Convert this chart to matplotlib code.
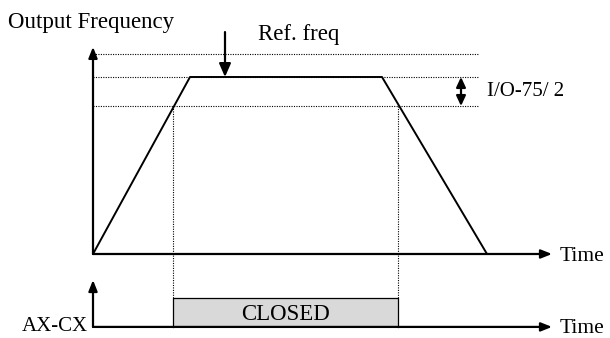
"""Timing diagram: output frequency profile and the AX-CX relay (CLOSED band)."""

import matplotlib

matplotlib.use("Agg")
import matplotlib.pyplot as plt

# frequency profile (time units, frequency as fraction of ref. plateau)
profile_time = [0.0, 0.97, 2.89, 3.94]
profile_freq = [0.0, 1.0, 1.0, 0.0]

ref_freq_level = 1.13       # upper dotted line
plateau_level = 1.0         # reached frequency
band_low_level = 0.836      # plateau minus I/O-75/2

# relay closed interval (where the ramps cross the band)
relay_on_time = 0.80
relay_off_time = 3.05

# relay signal levels, drawn below the frequency axis
relay_base = -0.412
relay_high = -0.249

labels = {
    "ylabel": "Output Frequency",
    "ref": "Ref. freq",
    "band": "I/O-75/ 2",
    "time": "Time",
    "relay": "AX-CX",
    "closed": "CLOSED",
}

plt.rcParams["font.family"] = ["Liberation Serif", "DejaVu Serif"]

fig = plt.figure(figsize=(6.10, 3.38), dpi=100)
ax = fig.add_axes([0, 0, 1, 1])
ax.set_xlim(-0.93, 5.17)
ax.set_ylim(-0.4746, 1.435)
ax.axis("off")

axis_arrow = dict(arrowstyle="-|>,head_length=0.65,head_width=0.26", lw=1.6,
                  color="black", shrinkA=0, shrinkB=0)
t_end = 4.59

# upper axes
ax.annotate("", xy=(0, 1.17), xytext=(0, 0), arrowprops=axis_arrow)
ax.annotate("", xy=(t_end, 0), xytext=(0, 0), arrowprops=axis_arrow)

# dotted guide levels
dot = dict(color="black", lw=0.8, linestyle=(0, (1, 1.2)))
for lvl in (ref_freq_level, plateau_level, band_low_level):
    ax.plot([0, 3.85], [lvl, lvl], **dot)
for t in (relay_on_time, relay_off_time):
    ax.plot([t, t], [band_low_level, relay_high], **dot)

# frequency profile
ax.plot(profile_time, profile_freq, color="black", lw=1.4, solid_capstyle="butt")

# ref. freq arrow
ax.annotate("", xy=(1.32, plateau_level), xytext=(1.32, 1.254),
            arrowprops=dict(arrowstyle="-|>,head_length=0.8,head_width=0.35",
                            lw=1.6, color="black", shrinkA=0, shrinkB=0))
ax.text(1.65, 1.240, labels["ref"], fontsize=16.5, va="center", ha="left")

# band double arrow
ax.annotate("", xy=(3.68, band_low_level), xytext=(3.68, plateau_level),
            arrowprops=dict(arrowstyle="<|-|>,head_length=0.6,head_width=0.28",
                            lw=1.6, color="black", shrinkA=0, shrinkB=0))
ax.text(3.94, 0.917, labels["band"], fontsize=15, va="center", ha="left")

ax.text(-0.85, 1.31, labels["ylabel"], fontsize=16.5, va="center", ha="left")
ax.text(4.67, -0.015, labels["time"], fontsize=15.5, va="center", ha="left")

# relay signal
ax.fill_between([relay_on_time, relay_off_time], relay_base, relay_high,
                facecolor="#d9d9d9", edgecolor="none")
ax.plot([relay_on_time, relay_on_time, relay_off_time, relay_off_time],
        [relay_base, relay_high, relay_high, relay_base], color="black", lw=0.9)
ax.text((relay_on_time + relay_off_time) / 2, (relay_base + relay_high) / 2 - 0.01,
        labels["closed"], fontsize=16.5, ha="center", va="center")
ax.annotate("", xy=(0, -0.147), xytext=(0, relay_base), arrowprops=axis_arrow)
ax.annotate("", xy=(t_end, relay_base), xytext=(0, relay_base), arrowprops=axis_arrow)
ax.text(4.67, relay_base - 0.01, labels["time"], fontsize=15.5, va="center", ha="left")
ax.text(-0.05, -0.462, labels["relay"], fontsize=15, va="bottom", ha="right")

fig.savefig("out.png", dpi=100)
